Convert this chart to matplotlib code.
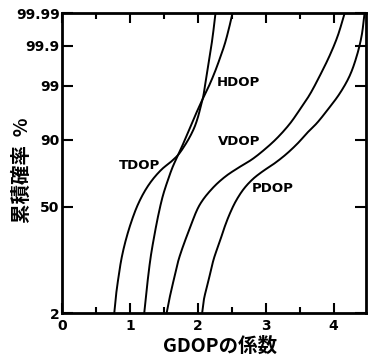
import math
import numpy as np
import matplotlib
matplotlib.use("Agg")
import matplotlib.pyplot as plt
from matplotlib.ticker import FixedLocator, FixedFormatter, MultipleLocator

# Cumulative probability (%) versus DOP factor for each dilution type
tdop_x = [0.766, 0.791, 0.828, 0.872, 0.931, 1.012, 1.108, 1.218, 1.336, 1.474, 1.607, 1.711,
          1.807, 1.888, 1.954, 2.006, 2.043, 2.077, 2.109, 2.138, 2.169, 2.200, 2.230, 2.259]
tdop_p = [2.0, 4.29, 8.65, 15.70, 25.10, 37.60, 50.75, 61.85, 70.11, 76.60, 80.70, 84.11,
          88.06, 91.29, 93.85, 95.96, 97.38, 98.25, 99.095, 99.554, 99.793, 99.906, 99.966, 99.99]

hdop_x = [1.208, 1.233, 1.270, 1.306, 1.358, 1.417, 1.483, 1.557, 1.631, 1.711,
          1.807, 1.895, 1.984, 2.072, 2.168, 2.249, 2.323, 2.396, 2.455, 2.510]
hdop_p = [2.0, 4.11, 9.62, 17.16, 29.01, 43.72, 58.21, 69.46, 78.02, 84.11,
          90.0, 93.97, 96.59, 98.10, 99.025, 99.516, 99.780, 99.912, 99.968, 99.99]

vdop_x = [1.538, 1.576, 1.645, 1.719, 1.881, 2.028, 2.219, 2.411, 2.617, 2.794,
          2.970, 3.162, 3.354, 3.501, 3.648, 3.796, 3.943, 4.061, 4.164]
vdop_p = [2.0, 3.62, 8.05, 15.70, 33.91, 51.50, 63.98, 72.05, 77.73, 81.72,
          86.07, 90.50, 94.42, 96.87, 98.43, 99.40, 99.816, 99.948, 99.99]

pdop_x = [2.062, 2.087, 2.160, 2.234, 2.323, 2.396, 2.470, 2.559, 2.676, 2.809, 2.956,
          3.118, 3.294, 3.471, 3.618, 3.751, 3.913, 4.090, 4.237, 4.340, 4.414, 4.458]
pdop_p = [2.0, 3.62, 8.05, 15.70, 25.10, 35.01, 44.51, 54.13, 63.28, 70.11, 75.13,
          79.39, 84.11, 88.79, 92.32, 94.53, 96.87, 98.51, 99.40, 99.804, 99.948, 99.99]

curve_names = ["TDOP", "HDOP", "VDOP", "PDOP"]
label_x = [0.83, 2.28, 2.30, 2.79]
label_p = [78.4, 99.14, 89.4, 63.3]

y_ticks = [2, 50, 90, 99, 99.9, 99.99]
y_tick_labels = ["2", "50", "90", "99", "99.9", "99.99"]
x_ticks = [0, 1, 2, 3, 4]
x_tick_labels = ["0", "1", "2", "3", "4"]

X_MAX = 4.48
P_MIN, P_MAX = 2, 99.99


# Normal-probability axis: percent <-> standard normal quantile
_A = [-3.969683028665376e+01, 2.209460984245205e+02, -2.759285104469687e+02,
      1.383577518672690e+02, -3.066479806614716e+01, 2.506628277459239e+00]
_B = [-5.447609879822406e+01, 1.615858368580409e+02, -1.556989798598866e+02,
      6.680131188771972e+01, -1.328068155288572e+01]
_C = [-7.784894002430293e-03, -3.223964580411365e-01, -2.400758277161838e+00,
      -2.549732539343734e+00, 4.374664141464968e+00, 2.938163982698783e+00]
_D = [7.784695709041462e-03, 3.224671290700398e-01, 2.445134137142996e+00,
      3.754408661907416e+00]


def _probit_scalar(p):
    plow = 0.02425
    if p < plow:
        q = math.sqrt(-2 * math.log(p))
        return (((((_C[0]*q + _C[1])*q + _C[2])*q + _C[3])*q + _C[4])*q + _C[5]) / \
               ((((_D[0]*q + _D[1])*q + _D[2])*q + _D[3])*q + 1)
    if p > 1 - plow:
        q = math.sqrt(-2 * math.log(1 - p))
        return -(((((_C[0]*q + _C[1])*q + _C[2])*q + _C[3])*q + _C[4])*q + _C[5]) / \
                ((((_D[0]*q + _D[1])*q + _D[2])*q + _D[3])*q + 1)
    q = p - 0.5
    r = q * q
    return (((((_A[0]*r + _A[1])*r + _A[2])*r + _A[3])*r + _A[4])*r + _A[5]) * q / \
           (((((_B[0]*r + _B[1])*r + _B[2])*r + _B[3])*r + _B[4])*r + 1)


def pct_to_z(v):
    v = np.clip(np.asarray(v, dtype=float) / 100.0, 1e-9, 1 - 1e-9)
    return np.vectorize(_probit_scalar, otypes=[float])(v)


def z_to_pct(z):
    z = np.asarray(z, dtype=float)
    return 100.0 * 0.5 * (1.0 + np.vectorize(math.erf, otypes=[float])(z / math.sqrt(2.0)))


def smooth_path(xs, ps, n=20):
    """Centripetal Catmull-Rom path through the points, built on the probability axis."""
    z_lo, z_hi = pct_to_z(P_MIN), pct_to_z(P_MAX)
    P = np.column_stack([np.asarray(xs) / X_MAX, (pct_to_z(ps) - z_lo) / (z_hi - z_lo)])
    P = np.vstack([2 * P[0] - P[1], P, 2 * P[-1] - P[-2]])
    out = []
    for i in range(1, len(P) - 2):
        p0, p1, p2, p3 = P[i - 1], P[i], P[i + 1], P[i + 2]
        t0 = 0.0
        t1 = t0 + np.linalg.norm(p1 - p0) ** 0.5 + 1e-9
        t2 = t1 + np.linalg.norm(p2 - p1) ** 0.5 + 1e-9
        t3 = t2 + np.linalg.norm(p3 - p2) ** 0.5 + 1e-9
        t = np.linspace(t1, t2, n, endpoint=False)[:, None]
        a1 = (t1 - t) / (t1 - t0) * p0 + (t - t0) / (t1 - t0) * p1
        a2 = (t2 - t) / (t2 - t1) * p1 + (t - t1) / (t2 - t1) * p2
        a3 = (t3 - t) / (t3 - t2) * p2 + (t - t2) / (t3 - t2) * p3
        b1 = (t2 - t) / (t2 - t0) * a1 + (t - t0) / (t2 - t0) * a2
        b2 = (t3 - t) / (t3 - t1) * a2 + (t - t1) / (t3 - t1) * a3
        c = (t2 - t) / (t2 - t1) * b1 + (t - t1) / (t2 - t1) * b2
        out.append(c)
    out.append(P[-2][None, :])
    Q = np.vstack(out)
    return Q[:, 0] * X_MAX, z_to_pct(Q[:, 1] * (z_hi - z_lo) + z_lo)


plt.rcParams["font.family"] = ["DejaVu Sans"]

fig = plt.figure(figsize=(3.72, 3.58), dpi=100)
ax = fig.add_axes([0.1675, 0.1249, 0.8165, 0.8379])
ax.set_yscale("function", functions=(pct_to_z, z_to_pct))

for xs, ps in [(tdop_x, tdop_p), (hdop_x, hdop_p), (vdop_x, vdop_p), (pdop_x, pdop_p)]:
    sx, sp = smooth_path(xs, ps)
    ax.plot(sx, sp, color="black", lw=1.4, solid_capstyle="round", solid_joinstyle="round")

for name, lx, lp in zip(curve_names, label_x, label_p):
    ax.text(lx, lp, name, fontsize=9.5, fontweight="bold", ha="left", va="center")

ax.set_xlim(0, X_MAX)
ax.set_ylim(P_MIN, P_MAX)

ax.yaxis.set_major_locator(FixedLocator(y_ticks))
ax.yaxis.set_major_formatter(FixedFormatter(y_tick_labels))
ax.yaxis.set_minor_locator(FixedLocator([]))
ax.xaxis.set_major_locator(FixedLocator(x_ticks))
ax.xaxis.set_major_formatter(FixedFormatter(x_tick_labels))
ax.xaxis.set_minor_locator(MultipleLocator(0.5))

ax.tick_params(axis="y", which="major", direction="in", left=True, right=True,
               length=8, width=1.5, pad=2, labelsize=10)
ax.tick_params(axis="x", which="major", direction="in", bottom=True, top=True,
               length=7, width=1.5, pad=4, labelsize=10)
ax.tick_params(axis="x", which="minor", direction="in", bottom=True, top=True,
               length=4, width=1.5)
for lab in ax.get_xticklabels() + ax.get_yticklabels():
    lab.set_fontweight("bold")

for sp in ax.spines.values():
    sp.set_linewidth(2.0)

ax.set_xlabel("GDOPの係数", fontsize=14, fontweight="bold",
              family=["Noto Sans CJK JP", "DejaVu Sans"])
ax.xaxis.set_label_coords(0.519, -0.111)
ax.xaxis.label.set_va("center")

ax.set_ylabel("累積確率  %", fontsize=14, fontweight="bold",
              family=["Noto Sans CJK JP", "DejaVu Sans"])
ax.yaxis.set_label_coords(-0.133, 0.478)
ax.yaxis.label.set_va("center")
ax.yaxis.label.set_rotation_mode("default")

fig.savefig("out.png", dpi=100, facecolor="white")
